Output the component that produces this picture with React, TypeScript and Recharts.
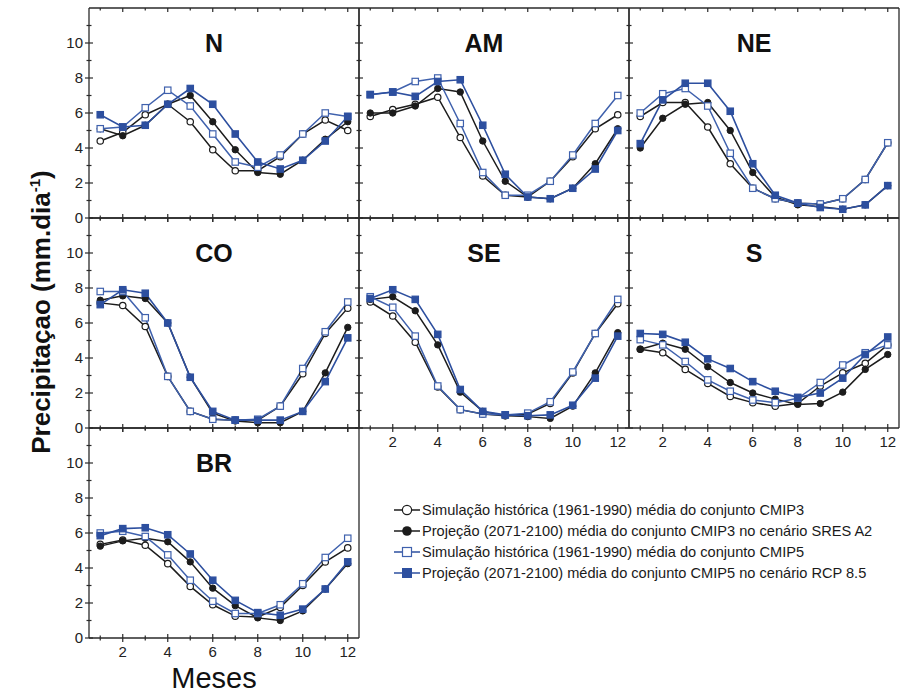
import React from 'react';
import { LineChart, Line, XAxis, YAxis } from 'recharts';

// months and tick values
const months = [1, 2, 3, 4, 5, 6, 7, 8, 9, 10, 11, 12];
const yTicks = [0, 1, 2, 3, 4, 5, 6, 7, 8, 9, 10, 11];

// panels in reading order (row, col)
const regions = ['N', 'AM', 'NE', 'CO', 'SE', 'S', 'BR'];

// CMIP3 historical simulation (1961-1990)
const cmip3Hist: Record<string, number[]> = {
  N: [4.4, 4.9, 5.9, 6.5, 5.5, 3.9, 2.7, 2.7, 3.5, 4.8, 5.6, 5.0],
  AM: [5.8, 6.2, 6.5, 6.9, 4.6, 2.4, 1.3, 1.2, 2.1, 3.5, 5.1, 5.9],
  NE: [5.8, 6.6, 6.6, 5.2, 3.1, 1.7, 1.1, 0.85, 0.8, 1.1, 2.2, 4.3],
  CO: [7.15, 7.0, 5.8, 2.95, 0.95, 0.5, 0.45, 0.45, 1.25, 3.1, 5.4, 6.85],
  SE: [7.2, 6.4, 4.9, 2.35, 1.05, 0.8, 0.7, 0.8, 1.4, 3.15, 5.4, 7.1],
  S: [4.5, 4.3, 3.35, 2.55, 1.8, 1.45, 1.25, 1.4, 2.4, 3.15, 3.7, 4.75],
  BR: [5.35, 5.6, 5.3, 4.25, 2.95, 1.9, 1.25, 1.2, 1.75, 3.0, 4.35, 5.15],
};

// CMIP3 projection (2071-2100), SRES A2
const cmip3Proj: Record<string, number[]> = {
  N: [5.1, 4.7, 5.3, 6.5, 7.0, 5.5, 3.9, 2.6, 2.5, 3.3, 4.5, 5.5],
  AM: [6.0, 6.0, 6.4, 7.4, 7.2, 4.4, 2.1, 1.2, 1.1, 1.7, 3.1, 5.1],
  NE: [4.0, 5.7, 6.5, 6.6, 5.0, 2.6, 1.2, 0.75, 0.65, 0.5, 0.75, 1.85],
  CO: [7.3, 7.55, 7.4, 6.0, 2.9, 0.85, 0.4, 0.3, 0.3, 0.95, 3.15, 5.75],
  SE: [7.35, 7.5, 6.7, 4.75, 2.05, 0.95, 0.7, 0.65, 0.55, 1.25, 3.15, 5.45],
  S: [4.5, 4.85, 4.5, 3.5, 2.6, 2.0, 1.65, 1.35, 1.4, 2.05, 3.35, 4.2],
  BR: [5.25, 5.55, 5.7, 5.5, 4.35, 2.85, 1.85, 1.15, 1.0, 1.55, 2.8, 4.25],
};

// CMIP5 historical simulation (1961-1990)
const cmip5Hist: Record<string, number[]> = {
  N: [5.1, 5.2, 6.3, 7.3, 6.4, 4.8, 3.2, 2.9, 3.6, 4.8, 6.0, 5.8],
  AM: [7.05, 7.2, 7.8, 8.0, 5.4, 2.6, 1.3, 1.3, 2.1, 3.6, 5.4, 7.0],
  NE: [6.0, 7.1, 7.4, 6.4, 3.7, 1.7, 1.1, 0.85, 0.8, 1.1, 2.2, 4.3],
  CO: [7.8, 7.8, 6.3, 2.95, 0.95, 0.5, 0.45, 0.5, 1.25, 3.4, 5.5, 7.2],
  SE: [7.5, 6.9, 5.25, 2.4, 1.05, 0.8, 0.75, 0.85, 1.5, 3.2, 5.4, 7.35],
  S: [5.05, 4.75, 3.8, 2.75, 2.1, 1.6, 1.45, 1.7, 2.6, 3.6, 4.3, 4.75],
  BR: [6.0, 6.1, 5.8, 4.75, 3.3, 2.1, 1.4, 1.4, 1.9, 3.1, 4.6, 5.7],
};

// CMIP5 projection (2071-2100), RCP 8.5
const cmip5Proj: Record<string, number[]> = {
  N: [5.9, 5.2, 5.3, 6.5, 7.4, 6.5, 4.8, 3.2, 2.8, 3.3, 4.4, 5.8],
  AM: [7.05, 7.2, 6.95, 7.8, 7.9, 5.3, 2.5, 1.2, 1.1, 1.7, 2.8, 5.0],
  NE: [4.25, 6.75, 7.7, 7.7, 6.1, 3.1, 1.3, 0.85, 0.6, 0.5, 0.75, 1.85],
  CO: [7.05, 7.9, 7.7, 6.0, 2.9, 0.95, 0.45, 0.45, 0.45, 0.95, 2.65, 5.15],
  SE: [7.4, 7.9, 7.35, 5.35, 2.2, 0.95, 0.75, 0.7, 0.75, 1.3, 2.85, 5.25],
  S: [5.4, 5.35, 4.9, 3.95, 3.4, 2.65, 2.1, 1.75, 2.0, 2.85, 4.2, 5.2],
  BR: [5.85, 6.25, 6.3, 5.9, 4.8, 3.3, 2.15, 1.45, 1.3, 1.65, 2.8, 4.35],
};

const legendLabels = [
  'Simulação histórica (1961-1990) média do conjunto CMIP3',
  'Projeção (2071-2100) média do conjunto CMIP3 no cenário SRES A2',
  'Simulação histórica (1961-1990) média do conjunto CMIP5',
  'Projeção (2071-2100) média do conjunto CMIP5 no cenário RCP 8.5',
];

const FONT = '"Liberation Sans", Arial, sans-serif';
const AX = '#2a2a2a';
const BLACK = '#1c1c1c';
const BLUE = '#2d4f9f';
const BLUE_LINE = '#3f61ad';

// plot area geometry
const PW = 270;
const PH = 210;
const X0 = 89;
const Y0 = 8;
const ML = 42;
const MR = 6;
const MT = 6;
const MB = 28;

const squareDot = (fill: string, stroke: string) => (p: any) => (
  <rect
    key={`sq-${p.index}`}
    x={p.cx - 3.2}
    y={p.cy - 3.2}
    width={6.4}
    height={6.4}
    fill={fill}
    stroke={stroke}
    strokeWidth={1.2}
  />
);

const bottomTick = (labels: boolean) => (p: any) => {
  const v = p.payload.value;
  const major = v % 2 === 0;
  const s = major ? 4 : 2.5;
  return (
    <g key={`bt-${v}`}>
      <line x1={p.x} x2={p.x} y1={p.y - s} y2={p.y + s} stroke={AX} strokeWidth={1.2} />
      {labels && major && (
        <text x={p.x} y={p.y + 19} textAnchor="middle" fontSize={15} fill="#222" fontFamily={FONT}>
          {v}
        </text>
      )}
    </g>
  );
};

const topTick = (p: any) => {
  const v = p.payload.value;
  const s = v % 2 === 0 ? 4 : 2.5;
  return <line key={`tt-${v}`} x1={p.x} x2={p.x} y1={p.y} y2={p.y + s} stroke={AX} strokeWidth={1.2} />;
};

const leftTick = (labels: boolean) => (p: any) => {
  const v = p.payload.value;
  const major = v % 2 === 0;
  const s = major ? 4 : 2.5;
  return (
    <g key={`lt-${v}`}>
      <line x1={p.x - s} x2={p.x + s} y1={p.y} y2={p.y} stroke={AX} strokeWidth={1.2} />
      {labels && major && (
        <text x={p.x - 6} y={p.y} dy="0.36em" textAnchor="end" fontSize={15} fill="#222" fontFamily={FONT}>
          {v}
        </text>
      )}
    </g>
  );
};

const rightTick = (p: any) => {
  const v = p.payload.value;
  const s = v % 2 === 0 ? 4 : 2.5;
  return <line key={`rt-${v}`} x1={p.x - s} x2={p.x + s} y1={p.y} y2={p.y} stroke={AX} strokeWidth={1.2} />;
};

function Panel({ region, row, col }: { region: string; row: number; col: number }) {
  const data = months.map((m, i) => ({
    month: m,
    h3: cmip3Hist[region][i],
    p3: cmip3Proj[region][i],
    h5: cmip5Hist[region][i],
    p5: cmip5Proj[region][i],
  }));
  const showX = region === 'SE' || region === 'S' || region === 'BR';
  const showY = col === 0;
  const left = X0 + col * PW;
  const top = Y0 + row * PH;

  // axes take 1px each (recharts skips 0-sized axes), so margins shrink by 1
  return (
    <>
      <div style={{ position: 'absolute', left: left - ML, top: top - MT }}>
        <LineChart
          width={PW + ML + MR}
          height={PH + MT + MB}
          data={data}
          margin={{ top: MT - 1, right: MR - 1, bottom: MB - 1, left: ML - 1 }}
        >
          <XAxis
            xAxisId="b"
            dataKey="month"
            type="number"
            domain={[0.5, 12.5]}
            ticks={months}
            interval={0}
            height={1}
            tickSize={0}
            tickMargin={0}
            tickLine={false}
            axisLine={{ stroke: AX, strokeWidth: 1.3 }}
            tick={bottomTick(showX)}
          />
          <XAxis
            xAxisId="t"
            orientation="top"
            dataKey="month"
            type="number"
            domain={[0.5, 12.5]}
            ticks={months}
            interval={0}
            height={1}
            tickSize={0}
            tickMargin={0}
            tickLine={false}
            axisLine={{ stroke: AX, strokeWidth: 1.3 }}
            tick={topTick}
          />
          <YAxis
            yAxisId="l"
            type="number"
            domain={[0, 12]}
            ticks={yTicks}
            interval={0}
            width={1}
            tickSize={0}
            tickMargin={0}
            tickLine={false}
            axisLine={{ stroke: AX, strokeWidth: 1.3 }}
            tick={leftTick(showY)}
          />
          <YAxis
            yAxisId="r"
            orientation="right"
            type="number"
            domain={[0, 12]}
            ticks={yTicks}
            interval={0}
            width={1}
            tickSize={0}
            tickMargin={0}
            tickLine={false}
            axisLine={{ stroke: AX, strokeWidth: 1.3 }}
            tick={rightTick}
          />
          <Line
            xAxisId="b"
            yAxisId="l"
            dataKey="h3"
            stroke={BLACK}
            strokeWidth={1.5}
            dot={{ r: 3.2, fill: '#fff', stroke: BLACK, strokeWidth: 1.2 }}
            isAnimationActive={false}
          />
          <Line
            xAxisId="b"
            yAxisId="l"
            dataKey="p3"
            stroke={BLACK}
            strokeWidth={1.5}
            dot={{ r: 3.2, fill: BLACK, stroke: BLACK, strokeWidth: 1 }}
            isAnimationActive={false}
          />
          <Line
            xAxisId="b"
            yAxisId="l"
            dataKey="h5"
            stroke={BLUE_LINE}
            strokeWidth={1.5}
            dot={squareDot('#fff', BLUE_LINE)}
            isAnimationActive={false}
          />
          <Line
            xAxisId="b"
            yAxisId="l"
            dataKey="p5"
            stroke={BLUE}
            strokeWidth={1.6}
            dot={squareDot(BLUE, BLUE)}
            isAnimationActive={false}
          />
        </LineChart>
      </div>
      <div
        style={{
          position: 'absolute',
          left: left + 125 - 60,
          width: 120,
          top: top + 35 - 15,
          height: 30,
          lineHeight: '30px',
          textAlign: 'center',
          fontFamily: FONT,
          fontWeight: 'bold',
          fontSize: 25,
          color: '#111',
        }}
      >
        {region}
      </div>
    </>
  );
}

const LegendMarker = ({ idx }: { idx: number }) => {
  const color = idx < 2 ? BLACK : BLUE;
  return (
    <svg width={28} height={14} style={{ display: 'block' }}>
      <line x1={1} x2={27} y1={7} y2={7} stroke={color} strokeWidth={1.5} />
      {idx === 0 && <circle cx={14} cy={7} r={4.6} fill="#fff" stroke={BLACK} strokeWidth={1.2} />}
      {idx === 1 && <circle cx={14} cy={7} r={4.8} fill={BLACK} />}
      {idx === 2 && <rect x={9.5} y={2.5} width={9} height={9} fill="#fff" stroke={BLUE_LINE} strokeWidth={1.2} />}
      {idx === 3 && <rect x={9.5} y={2.5} width={9} height={9} fill={BLUE} stroke={BLUE} strokeWidth={1} />}
    </svg>
  );
};

export default function App() {
  const positions = [
    [0, 0],
    [0, 1],
    [0, 2],
    [1, 0],
    [1, 1],
    [1, 2],
    [2, 0],
  ];
  return (
    <div style={{ position: 'absolute', left: 0, top: 0, width: 909, height: 697, background: '#fff', overflow: 'hidden' }}>
      {regions.map((r, i) => (
        <Panel key={r} region={r} row={positions[i][0]} col={positions[i][1]} />
      ))}

      {/* y axis title */}
      <div
        style={{
          position: 'absolute',
          left: 35 - 200,
          top: 312 - 16,
          width: 400,
          height: 32,
          lineHeight: '32px',
          textAlign: 'center',
          transform: 'rotate(-90deg)',
          fontFamily: FONT,
          fontWeight: 'bold',
          fontSize: 26,
          color: '#111',
          whiteSpace: 'nowrap',
        }}
      >
        Precipitaçao (mm.dia<sup style={{ fontSize: 15 }}>-1</sup>)
      </div>

      {/* x axis title */}
      <div
        style={{
          position: 'absolute',
          left: 214 - 100,
          top: 678 - 18,
          width: 200,
          height: 36,
          lineHeight: '36px',
          textAlign: 'center',
          fontFamily: FONT,
          fontSize: 29,
          color: '#111',
        }}
      >
        Meses
      </div>

      {/* legend */}
      <div style={{ position: 'absolute', left: 393, top: 499, fontFamily: FONT, fontSize: 14.6, color: '#1a1a1a' }}>
        {legendLabels.map((t, i) => (
          <div key={t} style={{ display: 'flex', alignItems: 'center', height: 21, whiteSpace: 'nowrap' }}>
            <LegendMarker idx={i} />
            <span style={{ marginLeft: 1 }}>{t}</span>
          </div>
        ))}
      </div>
    </div>
  );
}
